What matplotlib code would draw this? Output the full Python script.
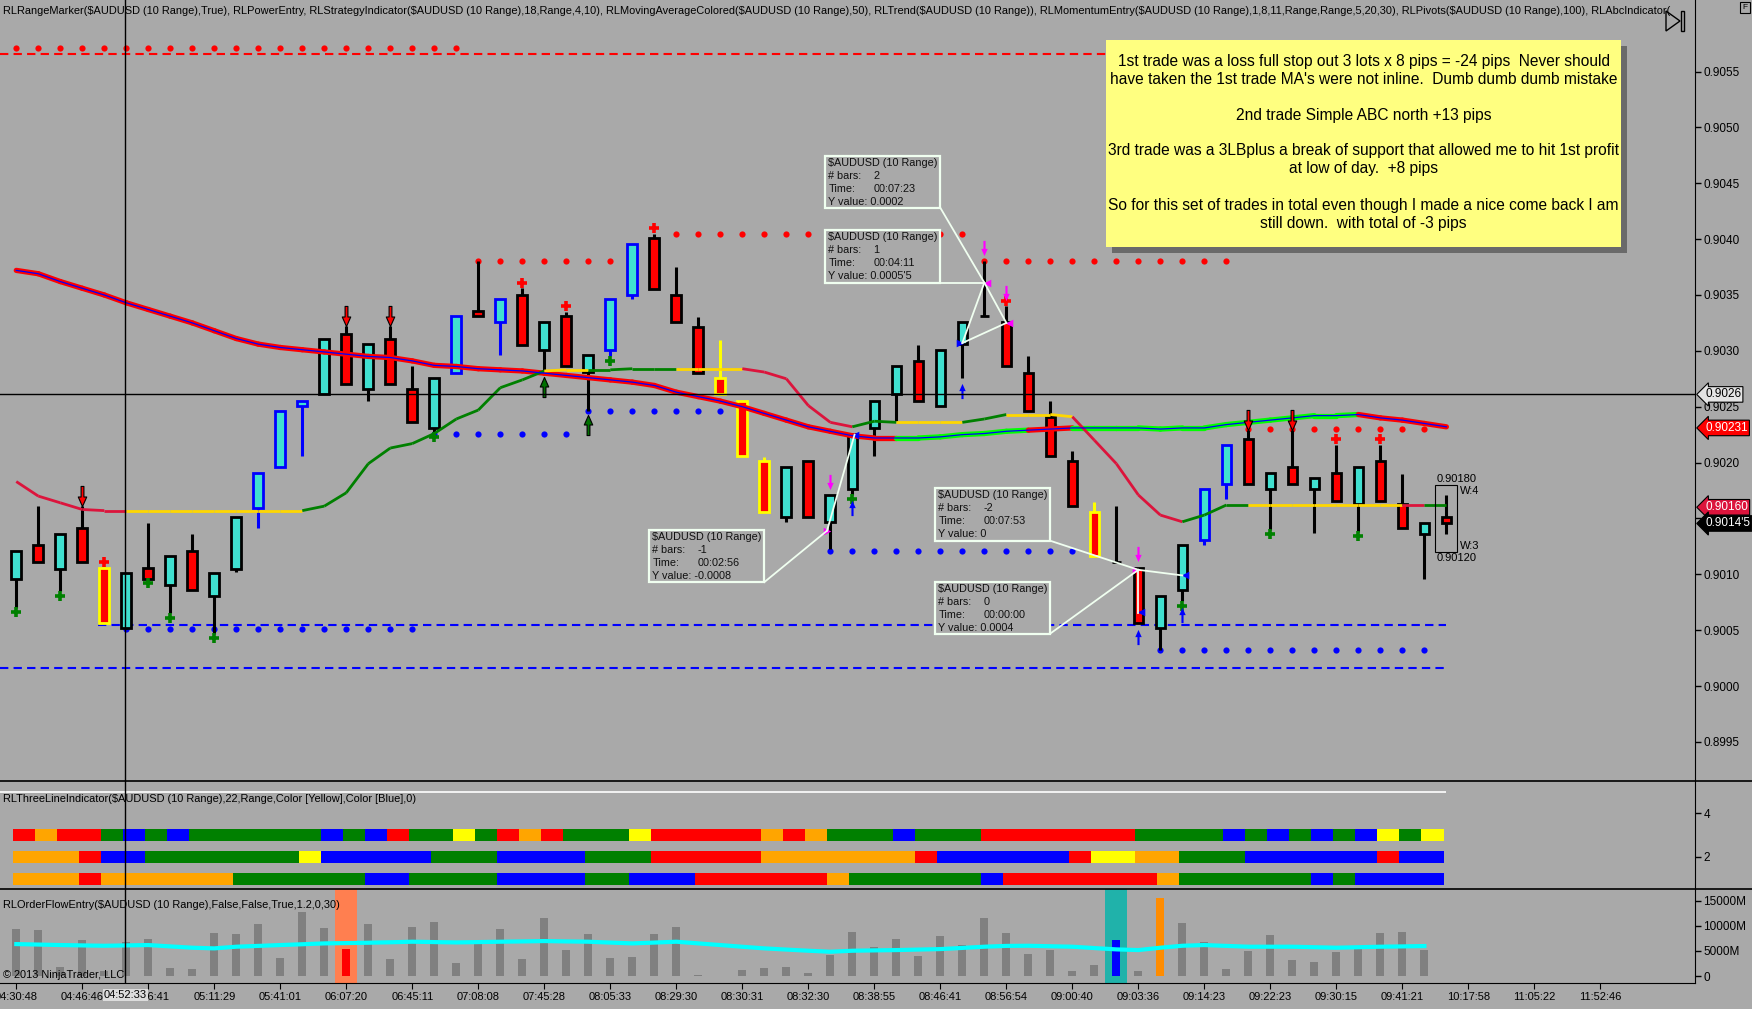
"""
AUDUSD 10 range chart (NinjaTrader style) with RL indicators,
three line indicator panel and order flow panel underneath.
"""
import numpy as np
import matplotlib
matplotlib.use("Agg")
import matplotlib.pyplot as plt
import matplotlib.transforms as mtransforms
from matplotlib.patches import Rectangle, Polygon
from matplotlib.lines import Line2D
from matplotlib.path import Path

plt.rcParams['font.family'] = ['Liberation Sans', 'DejaVu Sans']

# ---------------------------------------------------------------- data
opens = [0.90096, 0.90126, 0.90105, 0.90141, 0.90106, 0.90052, 0.90106, 0.90090, 0.90121, 0.90081,
         0.90105, 0.90159, 0.90196, 0.90251, 0.90261, 0.90315, 0.90266, 0.90311, 0.90266, 0.90231,
         0.90280, 0.90336, 0.90326, 0.90350, 0.90301, 0.90331, 0.90281, 0.90301, 0.90350, 0.90401,
         0.90350, 0.90321, 0.90276, 0.90255, 0.90201, 0.90151, 0.90201, 0.90147, 0.90176, 0.90231,
         0.90261, 0.90291, 0.90251, 0.90306, 0.90331, 0.90326, 0.90280, 0.90241, 0.90201, 0.90156,
         0.90111, 0.90106, 0.90052, 0.90086, 0.90131, 0.90181, 0.90221, 0.90176, 0.90196, 0.90176,
         0.90191, 0.90163, 0.90201, 0.90163, 0.90136, 0.90151]
highs = [0.90121, 0.90161, 0.90136, 0.90161, 0.90106, 0.90101, 0.90146, 0.90116, 0.90136, 0.90101,
         0.90151, 0.90191, 0.90246, 0.90255, 0.90311, 0.90322, 0.90306, 0.90322, 0.90286, 0.90276,
         0.90331, 0.90380, 0.90346, 0.90356, 0.90326, 0.90335, 0.90296, 0.90346, 0.90396, 0.90405,
         0.90375, 0.90330, 0.90310, 0.90255, 0.90205, 0.90196, 0.90201, 0.90171, 0.90226, 0.90255,
         0.90286, 0.90305, 0.90301, 0.90326, 0.90380, 0.90340, 0.90295, 0.90255, 0.90210, 0.90165,
         0.90161, 0.90106, 0.90081, 0.90126, 0.90176, 0.90216, 0.90229, 0.90191, 0.90229, 0.90186,
         0.90216, 0.90196, 0.90216, 0.90190, 0.90146, 0.90171]
lows = [0.90070, 0.90111, 0.90085, 0.90111, 0.90056, 0.90051, 0.90096, 0.90065, 0.90086, 0.90047,
        0.90102, 0.90141, 0.90196, 0.90206, 0.90261, 0.90270, 0.90255, 0.90270, 0.90236, 0.90227,
        0.90280, 0.90331, 0.90296, 0.90305, 0.90280, 0.90286, 0.90246, 0.90295, 0.90346, 0.90355,
        0.90326, 0.90280, 0.90261, 0.90206, 0.90156, 0.90147, 0.90151, 0.90123, 0.90171, 0.90206,
        0.90237, 0.90255, 0.90251, 0.90276, 0.90331, 0.90286, 0.90246, 0.90206, 0.90161, 0.90116,
        0.90111, 0.90056, 0.90032, 0.90076, 0.90126, 0.90167, 0.90181, 0.90140, 0.90181, 0.90137,
        0.90166, 0.90138, 0.90166, 0.90141, 0.90096, 0.90136]
closes = [0.90121, 0.90111, 0.90136, 0.90111, 0.90056, 0.90101, 0.90096, 0.90116, 0.90086, 0.90101,
          0.90151, 0.90191, 0.90246, 0.90255, 0.90311, 0.90270, 0.90306, 0.90270, 0.90236, 0.90276,
          0.90331, 0.90331, 0.90346, 0.90305, 0.90326, 0.90286, 0.90296, 0.90346, 0.90396, 0.90355,
          0.90326, 0.90280, 0.90261, 0.90206, 0.90156, 0.90196, 0.90151, 0.90171, 0.90226, 0.90255,
          0.90286, 0.90255, 0.90301, 0.90326, 0.90331, 0.90286, 0.90246, 0.90206, 0.90161, 0.90116,
          0.90111, 0.90056, 0.90081, 0.90126, 0.90176, 0.90216, 0.90181, 0.90191, 0.90181, 0.90186,
          0.90166, 0.90196, 0.90166, 0.90141, 0.90146, 0.90146]

# candles outlined by the power entry / momentum entry
blue_outline = [11, 12, 13, 20, 22, 27, 28, 54, 55]
yellow_outline = [4, 32, 33, 34, 49]

# RLMovingAverageColored(50): value per bar, colour per segment (R red, G green)
ma50 = [0.90372, 0.90369, 0.90362, 0.90356, 0.90350, 0.90343, 0.90337, 0.90331, 0.90325, 0.90318,
        0.90311, 0.90306, 0.90303, 0.90301, 0.90299, 0.90297, 0.90295, 0.90294, 0.90291, 0.90287,
        0.90286, 0.90284, 0.90283, 0.90282, 0.90280, 0.90278, 0.90276, 0.90274, 0.90272, 0.90269,
        0.90263, 0.90259, 0.90255, 0.90250, 0.90244, 0.90238, 0.90232, 0.90228, 0.90224, 0.90222,
        0.90222, 0.90222, 0.90223, 0.90225, 0.90226, 0.90228, 0.90229, 0.90230, 0.90231, 0.90231,
        0.90231, 0.90231, 0.90230, 0.90231, 0.90231, 0.90234, 0.90236, 0.90238, 0.90240, 0.90242,
        0.90242, 0.90243, 0.90240, 0.90238, 0.90235, 0.90232]
ma50_seg = "R" * 40 + "G" * 6 + "R" * 2 + "G" * 13 + "R" * 4

# RLTrend: value per bar, colour per segment (C crimson, Y yellow, G green)
trend = [0.90183, 0.90170, 0.90164, 0.90158, 0.90157, 0.90157, 0.90157, 0.90157, 0.90157, 0.90157,
         0.90157, 0.90157, 0.90157, 0.90157, 0.90161, 0.90173, 0.90199, 0.90213, 0.90217, 0.90226,
         0.90239, 0.90247, 0.90267, 0.90274, 0.90282, 0.90283, 0.90283, 0.90283, 0.90284, 0.90284,
         0.90284, 0.90284, 0.90284, 0.90284, 0.90281, 0.90275, 0.90251, 0.90236, 0.90232, 0.90237,
         0.90236, 0.90236, 0.90236, 0.90236, 0.90239, 0.90243, 0.90243, 0.90243, 0.90241, 0.90220,
         0.90199, 0.90171, 0.90153, 0.90147, 0.90153, 0.90162, 0.90162, 0.90162, 0.90162, 0.90162,
         0.90162, 0.90162, 0.90162, 0.90162, 0.90162, 0.90162]
trend_seg = ("C" * 5 + "Y" * 8 + "G" * 11 + "Y" * 2 + "G" * 4 + "Y" * 3 + "C" * 5 + "G" * 2
             + "Y" * 3 + "G" * 2 + "Y" * 3 + "C" * 5 + "G" * 3 + "Y" * 7 + "C" + "G")

# RLPivots dot rows: (first bar, last bar, price)
red_pivots = [(0, 20, 0.90571), (21, 27, 0.90380), (30, 43, 0.90405), (44, 55, 0.90380), (56, 64, 0.90230)]
blue_pivots = [(5, 18, 0.90051), (19, 25, 0.90226), (26, 32, 0.90246), (37, 48, 0.90121), (52, 64, 0.90032)]

# RLRangeMarker dashed levels: (price, first bar, colour)
levels = [(0.90566, None, 'red'), (0.90055, 4, 'blue'), (0.90016, None, 'blue')]

# signal markers (bar numbers)
green_plus = [0, 2, 6, 7, 9, 19, 27, 38, 53, 57, 61]
red_plus = [4, 23, 25, 29, 45, 60, 62]
red_down_arrows = [3, 15, 17, 56, 58]
green_up_arrows = [24, 26]
blue_up_arrows = [38, 43, 51, 53]
magenta_down_arrows = [37, 44, 45, 51]

# RLThreeLineIndicator rows (one letter per bar)
tl_row1 = ("RORRGBGB" + "GGGGGG" + "BGBR" + "GGYG" + "ROR" + "GGGY" + "RRRRR" + "ORO"
           + "GGGB" + "GGG" + "RRRRRRR" + "GGGG" + "BGBGBGB" + "YGY")
tl_row2 = ("OOO" + "R" + "BB" + "GGGGGGG" + "Y" + "BBBBB" + "GGG" + "BBBB" + "GGG" + "RRRRR"
           + "OOOOOOO" + "R" + "BBBBBB" + "R" + "YY" + "OO" + "GGG" + "BBBBBB" + "R" + "BB")
tl_row3 = ("OOO" + "R" + "OOOOOO" + "GGGGGG" + "BB" + "GGGG" + "BBBB" + "GG" + "BBB" + "RRRRRR"
           + "O" + "GGGGGG" + "B" + "RRRRRRR" + "O" + "GGGGGG" + "B" + "G" + "BBBB")

# RLOrderFlowEntry volume (millions) and its average
volume = [9300, 9100, 1700, 7100, 1000, 6700, 7300, 1650, 1400, 8500,
          8300, 10300, 3600, 12700, 9500, 5350, 10300, 3400, 9700, 10700,
          2600, 6500, 9300, 3400, 11500, 5150, 8300, 3600, 3750, 8300,
          9700, 200, 0, 1200, 1600, 1800, 600, 4150, 8700, 5750,
          7350, 3950, 7950, 6150, 11500, 8500, 4350, 5150, 1000, 2200,
          7150, 1000, 15500, 10500, 6750, 1400, 4950, 8150, 3150, 2800,
          4750, 5750, 8500, 8700, 5150, 0]
volume_avg = [6340, 6250, 6150, 6080, 6010, 6080, 6150, 5880, 5620, 5490,
              5820, 5980, 6150, 6310, 6480, 6540, 6610, 6700, 6810, 6740,
              6670, 6740, 6810, 6870, 6940, 6870, 6810, 6640, 6480, 6640,
              6810, 6480, 6150, 5810, 5490, 5250, 5020, 4820, 5020, 5090,
              5150, 5250, 5350, 5580, 5820, 5980, 6010, 5910, 5820, 5550,
              5290, 5150, 5620, 6010, 6150, 5980, 5820, 5820, 5820, 5720,
              5620, 5720, 5820, 5880, 5950]
vol_special = {15: '#FF0000', 50: '#0000FF', 52: '#FF8C00'}
vol_highlight = {15: '#FF7F50', 50: '#20B2AA'}

time_labels = ['04:30:48', '04:46:46', '04:56:41', '05:11:29', '05:41:01', '06:07:20', '06:45:11',
               '07:08:08', '07:45:28', '08:05:33', '08:29:30', '08:30:31', '08:32:30', '08:38:55',
               '08:46:41', '08:56:54', '09:00:40', '09:03:36', '09:14:23', '09:22:23', '09:30:15',
               '09:41:21', '10:17:58', '11:05:22', '11:52:46']
price_ticks = [0.8995, 0.9000, 0.9005, 0.9010, 0.9015, 0.9020, 0.9025, 0.9030,
               0.9035, 0.9040, 0.9045, 0.9050, 0.9055]

header = ("RLRangeMarker($AUDUSD (10 Range),True), RLPowerEntry, RLStrategyIndicator($AUDUSD (10 Range),18,"
          "Range,4,10), RLMovingAverageColored($AUDUSD (10 Range),50), RLTrend($AUDUSD (10 Range)), "
          "RLMomentumEntry($AUDUSD (10 Range),1,8,11,Range,Range,5,20,30), RLPivots($AUDUSD (10 Range),100), "
          "RLAbcIndicator(")
tl_title = "RLThreeLineIndicator($AUDUSD (10 Range),22,Range,Color [Yellow],Color [Blue],0)"
of_title = "RLOrderFlowEntry($AUDUSD (10 Range),False,False,True,1.2,0,30)"

note_lines = ["1st trade was a loss full stop out 3 lots x 8 pips = -24 pips  Never should",
              "have taken the 1st trade MA's were not inline.  Dumb dumb dumb mistake",
              "2nd trade Simple ABC north +13 pips",
              "3rd trade was a 3LBplus a break of support that allowed me to hit 1st profit",
              "at low of day.  +8 pips",
              "So for this set of trades in total even though I made a nice come back I am",
              "still down.  with total of -3 pips"]

# ruler readouts: (# bars, time, y value)
rulers = [('2', '00:07:23', '0.0002'), ('1', '00:04:11', "0.0005'5"), ('-2', '00:07:53', '0'),
          ('0', '00:00:00', '0.0004'), ('-1', '00:02:56', '-0.0008')]

# ---------------------------------------------------------------- layout
W, H = 1752, 1009
BG = '#A9A9A9'
COL = {'R': '#FF0000', 'O': '#FFA500', 'G': '#008000', 'B': '#0000FF', 'Y': '#FFFF00'}


def rect(x0, y0, x1, y1):
    return [x0 / W, 1 - y1 / H, (x1 - x0) / W, (y1 - y0) / H]


def fig_line(x0, y0, x1, y1, **kw):
    fig.add_artist(Line2D([x0 / W, x1 / W], [1 - y0 / H, 1 - y1 / H], transform=fig.transFigure, **kw))


fig = plt.figure(figsize=(W / 100, H / 100), dpi=100, facecolor=BG)
ax = fig.add_axes(rect(0, 0, 1695, 781))
ax_tl = fig.add_axes(rect(0, 781, 1695, 889.4), sharex=ax)
ax_of = fig.add_axes(rect(0, 889.4, 1695, 983.2), sharex=ax)

for a in (ax, ax_tl, ax_of):
    a.set_facecolor(BG)
    for s in ('top', 'left', 'bottom'):
        a.spines[s].set_visible(False)
    a.spines['right'].set_color('black')
    a.yaxis.tick_right()
    a.tick_params(axis='y', direction='out', length=4, width=1, labelsize=8.5, pad=2, colors='black')
ax.tick_params(axis='x', bottom=False, labelbottom=False)
ax_tl.tick_params(axis='x', bottom=False, labelbottom=False)
ax_of.spines['bottom'].set_visible(True)

ax.set_xlim(-0.74, 76.3)
ax.set_ylim(0.89915, 0.90614)
ax_tl.set_ylim(0.51, 5.49)
ax_of.set_ylim(-1430, 17207)

n = len(opens)
x = np.arange(n)
o = np.array(opens); c = np.array(closes); hi = np.array(highs); lo = np.array(lows)

# ---------------------------------------------------------------- main panel
for price, start, col in levels:
    x0 = -0.74 if start is None else start - 0.3
    ax.hlines(price, x0, n - 1, colors=col, linestyles=(0, (4, 2.5)), lw=1.5, zorder=2)

for rows, col in ((red_pivots, '#FF0000'), (blue_pivots, '#0000FF')):
    for b0, b1, price in rows:
        xs = np.arange(b0, b1 + 1)
        ax.scatter(xs, np.full(len(xs), price), s=20, color=col, linewidths=0, zorder=3)

edge = ['black'] * n
for i in blue_outline:
    edge[i] = '#0000FF'
for i in yellow_outline:
    edge[i] = '#FFFF00'
face = np.where(c >= o, '#40E0D0', '#FF0000')
ax.vlines(x, lo, hi, colors=edge, lw=2.2, zorder=4)
ax.bar(x, np.abs(c - o), bottom=np.minimum(o, c), width=0.44, color=face,
       edgecolor=edge, linewidth=2.0, zorder=5)

# moving average 50, red/green band with thin blue centre
for k in range(n - 1):
    col = '#FF0000' if ma50_seg[k] == 'R' else '#00FF00'
    ax.plot([k, k + 1], ma50[k:k + 2], color=col, lw=3.8, solid_capstyle='round', zorder=6)
ax.plot(x, ma50, color='#0000FF', lw=0.9, zorder=7)

trend_cols = {'C': '#DC143C', 'Y': '#FFD700', 'G': '#008000'}
for k in range(n - 1):
    ax.plot([k, k + 1], trend[k:k + 2], color=trend_cols[trend_seg[k]], lw=2.0,
            solid_capstyle='butt', zorder=6)

# signal markers
up_arrow = Path([(-0.14, -1.0), (0.14, -1.0), (0.14, 0.05), (0.42, 0.05), (0.0, 1.0),
                 (-0.42, 0.05), (-0.14, 0.05), (-0.14, -1.0)], closed=True)
down_arrow = Path(up_arrow.vertices * np.array([1, -1]), closed=True)

ax.scatter(green_plus, lo[green_plus] - 0.00004, marker='+', s=55, linewidths=2.6, color='#008000', zorder=9)
ax.scatter(red_plus, hi[red_plus] + 0.00005, marker='+', s=55, linewidths=2.6, color='#FF0000', zorder=9)
ax.scatter(red_down_arrows, hi[red_down_arrows] + 0.00009, marker=down_arrow, s=210,
           color='#FF0000', edgecolors='black', linewidths=0.8, zorder=9)
ax.scatter(green_up_arrows, lo[green_up_arrows] - 0.00012, marker=up_arrow, s=210,
           color='#007000', edgecolors='black', linewidths=0.8, zorder=9)
ax.scatter(blue_up_arrows, lo[blue_up_arrows] - 0.00012, marker=up_arrow, s=120,
           color='#0000FF', linewidths=0, zorder=9)
ax.scatter(magenta_down_arrows, hi[magenta_down_arrows] + 0.00012, marker=down_arrow, s=120,
           color='#FF00FF', linewidths=0, zorder=9)

# abc points
for bx, py, m, col in [(36.84, 0.90139, '>', '#FF00FF'), (44.1, 0.90361, '<', '#FF00FF'),
                       (45.1, 0.90325, '<', '#FF00FF'), (50.9, 0.90104, '>', '#FF00FF'),
                       (38.1, 0.90225, '<', '#0000FF'), (42.9, 0.90307, '>', '#0000FF'),
                       (51.1, 0.90066, '<', '#0000FF'), (53.1, 0.90099, '<', '#0000FF')]:
    ax.scatter([bx], [py], marker=m, s=30, color=col, linewidths=0, zorder=10)

# ruler tool lines and readout boxes
ruler_pos = [(42.0, 0.90474, 0.90428), (42.0, 0.90408, 0.90361), (47.0, 0.90177, 0.90130),
             (47.0, 0.90093, 0.90047), (34.0, 0.90140, 0.90093)]
ruler_lines = [((42.0, 0.90428), (44.0, 0.90361)), ((42.0, 0.90361), (44.0, 0.90361)),
               ((44.0, 0.90361), (43.0, 0.90307)), ((43.0, 0.90307), (45.0, 0.90325)),
               ((44.0, 0.90361), (45.0, 0.90325)), ((47.0, 0.90130), (51.0, 0.90104)),
               ((47.0, 0.90047), (51.0, 0.90104)), ((51.0, 0.90104), (53.0, 0.90099)),
               ((51.0, 0.90104), (51.0, 0.90065)), ((34.0, 0.90093), (36.85, 0.90139)),
               ((36.85, 0.90139), (38.1, 0.90225))]
for (xa, ya), (xb, yb) in ruler_lines:
    ax.plot([xa, xb], [ya, yb], color='#F0FFF0', lw=1.3, zorder=11)

for (right, top, bottom), (nb, tm, yv) in zip(ruler_pos, rulers):
    left = right - 5.23
    ax.add_patch(Rectangle((left, bottom), 5.23, top - bottom, facecolor=BG,
                           edgecolor='#F0FFF0', lw=1.6, zorder=12))
    rows = [('$AUDUSD (10 Range)', None), ('# bars:', nb), ('Time:', tm), ('Y value: ' + yv, None)]
    for k, (lab, val) in enumerate(rows):
        ax.annotate(lab, (left, top), xytext=(3, -7 - 13 * k), textcoords='offset pixels',
                    fontsize=7.8, va='center', ha='left', color='#101010', zorder=13, parse_math=False)
        if val is not None:
            ax.annotate(val, (left, top), xytext=(48, -7 - 13 * k), textcoords='offset pixels',
                        fontsize=7.8, va='center', ha='left', color='#101010', zorder=13)

# current bar range box
ax.add_patch(Rectangle((64.5, 0.90120), 1.0, 0.00060, fill=False, edgecolor='black', lw=0.8, zorder=8))
ax.text(65.45, 0.90181, '0.90180', fontsize=8, ha='center', va='bottom', zorder=13)
ax.text(65.45, 0.90119, '0.90120', fontsize=8, ha='center', va='top', zorder=13)
ax.text(65.6, 0.90179, 'W:4', fontsize=8, ha='left', va='top', zorder=13)
ax.text(65.6, 0.90121, 'W:3', fontsize=8, ha='left', va='bottom', zorder=13)

# crosshair
cross_bar, cross_price = 4.96, 0.90261
ax.axhline(cross_price, color='black', lw=1, zorder=14)
for a in (ax, ax_tl, ax_of):
    a.axvline(cross_bar, color='black', lw=1, zorder=14)

ax.set_yticks(price_ticks)
ax.set_yticklabels([f'{p:.4f}' for p in price_ticks])

tag_tr = mtransforms.offset_copy(mtransforms.blended_transform_factory(ax.transAxes, ax.transData),
                                 fig=fig, x=10, y=0, units='dots')
for price, label, fc, tc in [(cross_price, '0.9026', '#E4E4E4', 'black'),
                             (0.90231, '0.90231', '#FF0000', 'white'),
                             (0.90160, '0.90160', '#DC143C', 'white'),
                             (0.901455, "0.9014'5", 'black', 'white')]:
    ax.text(1.0, price, label, transform=tag_tr, ha='left', va='center', fontsize=8.5, color=tc,
            bbox=dict(boxstyle='larrow,pad=0.15', fc=fc, ec='black', lw=0.8), clip_on=False, zorder=30)

ax.text(0.002, 0.986, header, transform=ax.transAxes, fontsize=7.9, ha='left', va='center',
        clip_on=True, zorder=20, parse_math=False)

# ---------------------------------------------------------------- three line panel
ax_tl.hlines(5, -0.74, n - 1, colors='white', lw=1.2)
for level, row in zip([3, 2, 1], [tl_row1, tl_row2, tl_row3]):
    ax_tl.bar(np.arange(len(row)) - 0.14, 0.56, bottom=level - 0.28, width=1.02, align='edge',
              color=[COL[ch] for ch in row], linewidth=0, zorder=3)
ax_tl.set_yticks([2, 4])
ax_tl.set_yticklabels(['2', '4'])

# ---------------------------------------------------------------- order flow panel
for b, col in vol_highlight.items():
    ax_of.axvspan(b - 0.5, b + 0.5, color=col, lw=0, zorder=1)
vol_cols = [vol_special.get(i, '#808080') for i in range(n)]
ax_of.bar(x, volume, width=0.36, color=vol_cols, linewidth=0, zorder=3)
ax_of.plot(np.arange(len(volume_avg)), volume_avg, color='#00FFFF', lw=3, zorder=4)
ax_of.set_yticks([0, 5000, 10000, 15000])
ax_of.set_yticklabels(['0', '5000M', '10000M', '15000M'])

ax_of.set_xticks(np.arange(0, 73, 3))
ax_of.set_xticklabels(time_labels)
ax_of.tick_params(axis='x', direction='out', length=4, labelsize=8, pad=2, colors='black')
ax_of.text(cross_bar, -0.125, '04:52:33', transform=ax_of.get_xaxis_transform(), fontsize=8,
           ha='center', va='center', clip_on=False, zorder=30,
           bbox=dict(boxstyle='square,pad=0.1', fc='#DCDCDC', ec='none'))

fig.text(3 / W, 1 - 799 / H, tl_title, fontsize=7.9, ha='left', va='center', parse_math=False)
fig.text(3 / W, 1 - 905 / H, of_title, fontsize=7.9, ha='left', va='center', parse_math=False)
fig.text(3 / W, 1 - 975 / H, '\u00a9 2013 NinjaTrader, LLC', fontsize=7.9, ha='left', va='center', zorder=20)

# ---------------------------------------------------------------- frame lines and widgets
fig_line(0, 781, W, 781, color='black', lw=1.2)
fig_line(0, 889.4, W, 889.4, color='black', lw=1.2)

fig.add_artist(Polygon([(1666 / W, 1 - 11 / H), (1666 / W, 1 - 31 / H), (1680 / W, 1 - 21 / H)],
                       closed=True, fill=False, edgecolor='black', lw=1, transform=fig.transFigure))
fig.add_artist(Rectangle((1681 / W, 1 - 31 / H), 3 / W, 20 / H, fill=False, edgecolor='black',
                         lw=1, transform=fig.transFigure))
fig.add_artist(Rectangle((1740 / W, 1 - 13 / H), 10 / W, 11 / H, fill=False, edgecolor='black',
                         lw=0.8, transform=fig.transFigure))
fig.text(1745 / W, 1 - 7.5 / H, 'F', fontsize=6, ha='center', va='center')

# yellow note with shadow
fig.add_artist(Rectangle((1112 / W, 1 - 253 / H), 515 / W, 207 / H, facecolor='#6A6A6A',
                         edgecolor='none', transform=fig.transFigure, zorder=40))
fig.add_artist(Rectangle((1106 / W, 1 - 247 / H), 515 / W, 207 / H, facecolor='#FFFF80',
                         edgecolor='none', transform=fig.transFigure, zorder=41))
for line, ypix in zip(note_lines, [61.5, 79.3, 115.1, 150.8, 168.7, 205.6, 223.5]):
    fig.text(1363.5 / W, 1 - ypix / H, line, fontsize=11.2, ha='center', va='center', zorder=42)

fig.savefig('out.png', dpi=100, facecolor=BG)
